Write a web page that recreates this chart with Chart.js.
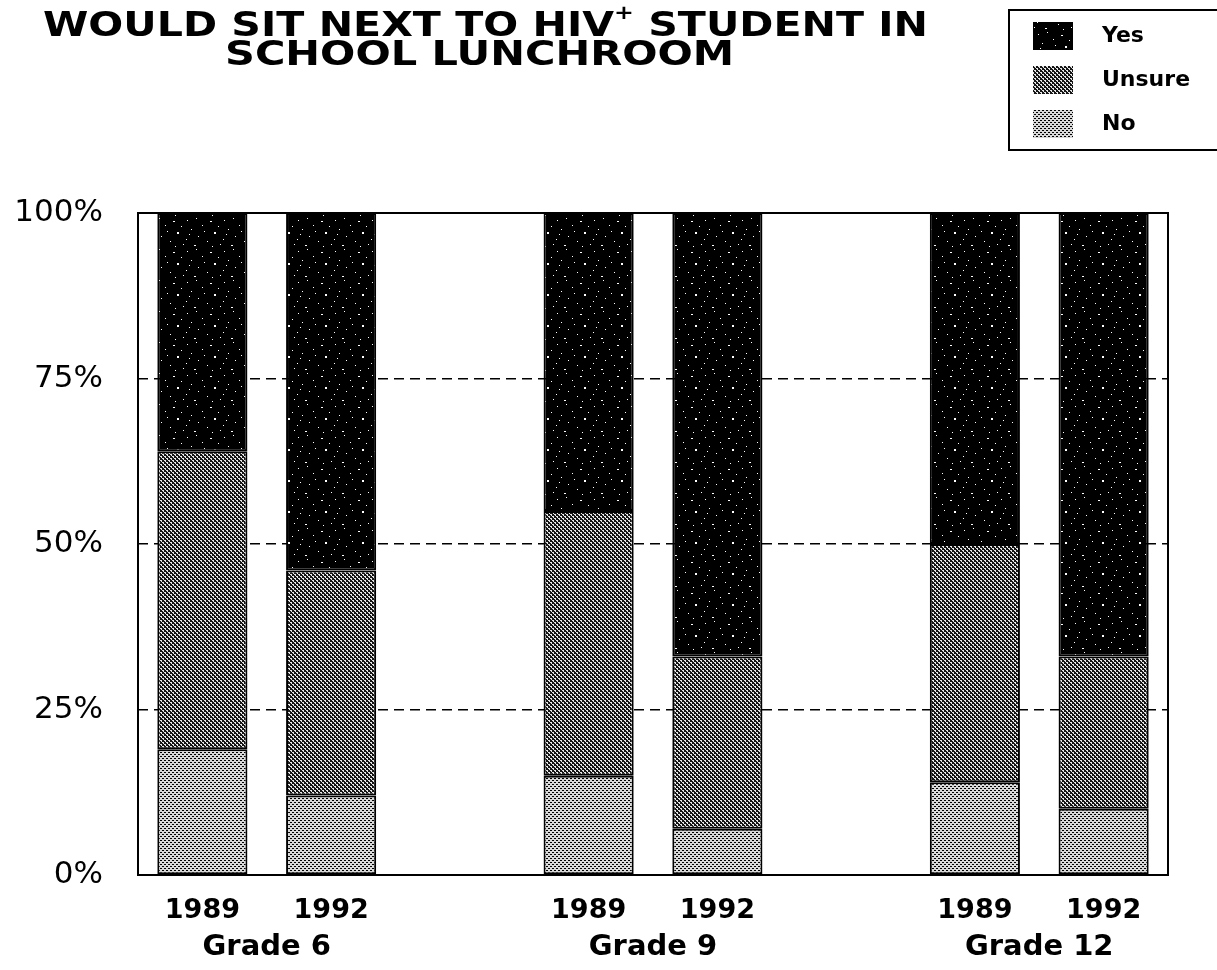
<!DOCTYPE html>
<html>
<head>
<meta charset="utf-8">
<script src="https://cdn.jsdelivr.net/npm/chart.js@4/dist/chart.umd.min.js"></script>
<style>
  html, body { margin: 0; padding: 0; background: #fff; }
  #wrap { width: 1217px; height: 970px; }
</style>
</head>
<body>
<div id="wrap"><canvas id="lunch"></canvas></div>
<script>
// survey answers, percent of students, bottom to top of each bar
const years = ['1989', '1992', '', '1989', '1992', '', '1989', '1992'];
const grades = ['Grade 6', 'Grade 9', 'Grade 12'];
const gradeCenters = [0.5, 3.5, 6.5];
const noVals = [19, 12, null, 15, 7, null, 14, 10];
const unsureVals = [45, 34, null, 40, 26, null, 36, 23];
const yesVals = [36, 54, null, 45, 67, null, 50, 67];
const yTicks = [0, 25, 50, 75, 100];

const FONT = '"DejaVu Sans", Verdana, sans-serif';

// little tiles for the halftone fills
function makeTile(w, h, bg, dots, dotColor) {
  const c = document.createElement('canvas');
  c.width = w; c.height = h;
  const g = c.getContext('2d');
  g.fillStyle = bg;
  g.fillRect(0, 0, w, h);
  g.fillStyle = dotColor;
  dots.forEach(d => g.fillRect(d[0], d[1], d[2] || 1, d[3] || 1));
  return g.createPattern(c, 'repeat');
}

const ctx = document.getElementById('lunch').getContext('2d');

// black with scattered white specks
const yesFill = makeTile(37, 31, '#000', [
  [2, 3], [11, 1], [25, 4, 2, 1], [33, 9], [6, 12], [17, 8], [29, 15, 2, 2],
  [13, 19], [1, 22], [22, 24], [35, 27], [9, 28, 2, 1], [19, 14], [27, 29], [4, 17]
], '#fff');
const unsureFill = makeTile(4, 4, '#151515', [
  [0, 0, 2, 1], [2, 2, 2, 1], [1, 1], [3, 3]
], '#e8e8e8');
const noFill = makeTile(4, 4, '#d8d8d8', [
  [0, 0, 2, 1], [2, 2, 2, 1]
], '#000');

const series = [
  { label: 'No', data: noVals, fill: noFill },
  { label: 'Unsure', data: unsureVals, fill: unsureFill },
  { label: 'Yes', data: yesVals, fill: yesFill }
];

// text stretched to a given width
function fitText(g, text, x, y, width) {
  const w = g.measureText(text).width;
  g.save();
  g.translate(x, y);
  g.scale(width / w, 1);
  g.textAlign = 'left';
  g.fillText(text, 0, 0);
  g.restore();
}

const decorations = {
  id: 'decorations',
  beforeDatasetsDraw(chart) {
    const a = chart.chartArea;
    const g = chart.ctx;
    g.save();
    g.strokeStyle = '#000';
    g.lineWidth = 2;
    g.strokeRect(a.left, a.top, a.right - a.left, a.bottom - a.top);
    g.restore();
  },
  afterDraw(chart) {
    const g = chart.ctx;
    const xs = chart.scales.x;
    g.save();
    g.fillStyle = '#000';
    g.textBaseline = 'middle';

    // group names under the year labels
    g.font = 'bold 29px ' + FONT;
    g.textAlign = 'center';
    grades.forEach((name, i) => {
      g.fillText(name, xs.getPixelForValue(gradeCenters[i]), 947);
    });

    // title, with the raised plus after HIV
    const big = 'bold 33px ' + FONT;
    const small = 'bold 19px ' + FONT;
    const partA = 'WOULD SIT NEXT TO HIV';
    const partB = ' STUDENT IN';
    g.font = big;
    const wA = g.measureText(partA).width;
    const wB = g.measureText(partB).width;
    g.font = small;
    const wP = g.measureText('+').width;
    const sx = 885 / (wA + wP + wB);
    g.save();
    g.translate(43, 27);
    g.scale(sx, 1);
    g.textAlign = 'left';
    g.font = big;
    g.fillText(partA, 0, 0);
    g.font = small;
    g.fillText('+', wA, -13);
    g.font = big;
    g.fillText(partB, wA + wP, 0);
    g.restore();
    g.font = big;
    fitText(g, 'SCHOOL LUNCHROOM', 225, 56, 509);

    // legend box in the corner
    g.strokeStyle = '#000';
    g.lineWidth = 2;
    g.strokeRect(1009, 10, 230, 140);
    g.font = 'bold 22px ' + FONT;
    g.textAlign = 'left';
    const rows = [series[2], series[1], series[0]];
    const rowY = [36, 80, 124];
    rows.forEach((s, i) => {
      g.fillStyle = s.fill;
      g.fillRect(1033, rowY[i] - 14, 40, 28);
      g.fillStyle = '#000';
      g.fillText(s.label, 1102, rowY[i]);
    });
    g.restore();
  }
};

new Chart(ctx, {
  type: 'bar',
  data: {
    labels: years,
    datasets: series.map(s => ({
      label: s.label,
      data: s.data,
      backgroundColor: s.fill,
      borderColor: '#000',
      borderWidth: 2,
      borderSkipped: false,
      categoryPercentage: 1,
      barPercentage: 0.7
    }))
  },
  options: {
    responsive: true,
    maintainAspectRatio: false,
    animation: false,
    layout: { padding: { top: 213, right: 49, left: 0, bottom: 0 } },
    plugins: {
      legend: { display: false },
      title: { display: false },
      tooltip: { enabled: false }
    },
    scales: {
      x: {
        stacked: true,
        grid: { display: false, drawTicks: false },
        border: { display: false },
        ticks: {
          color: '#000',
          padding: 20,
          maxRotation: 0,
          autoSkip: false,
          font: { family: FONT, size: 27, weight: 'bold' }
        },
        afterFit(scale) { scale.height = 95; }
      },
      y: {
        stacked: true,
        min: 0,
        max: 100,
        afterBuildTicks(scale) { scale.ticks = yTicks.map(v => ({ value: v })); },
        grid: {
          drawTicks: false,
          color: c => (c.tick && (c.tick.value === 0 || c.tick.value === 100)) ? 'rgba(0,0,0,0)' : '#000',
          lineWidth: 1.5
        },
        border: { display: false, dash: [10, 6] },
        ticks: {
          color: '#000',
          padding: 35,
          font: { family: FONT, size: 31 },
          callback: v => v + '%'
        },
        afterFit(scale) { scale.width = 138; }
      }
    }
  },
  plugins: [decorations]
});
</script>
</body>
</html>
